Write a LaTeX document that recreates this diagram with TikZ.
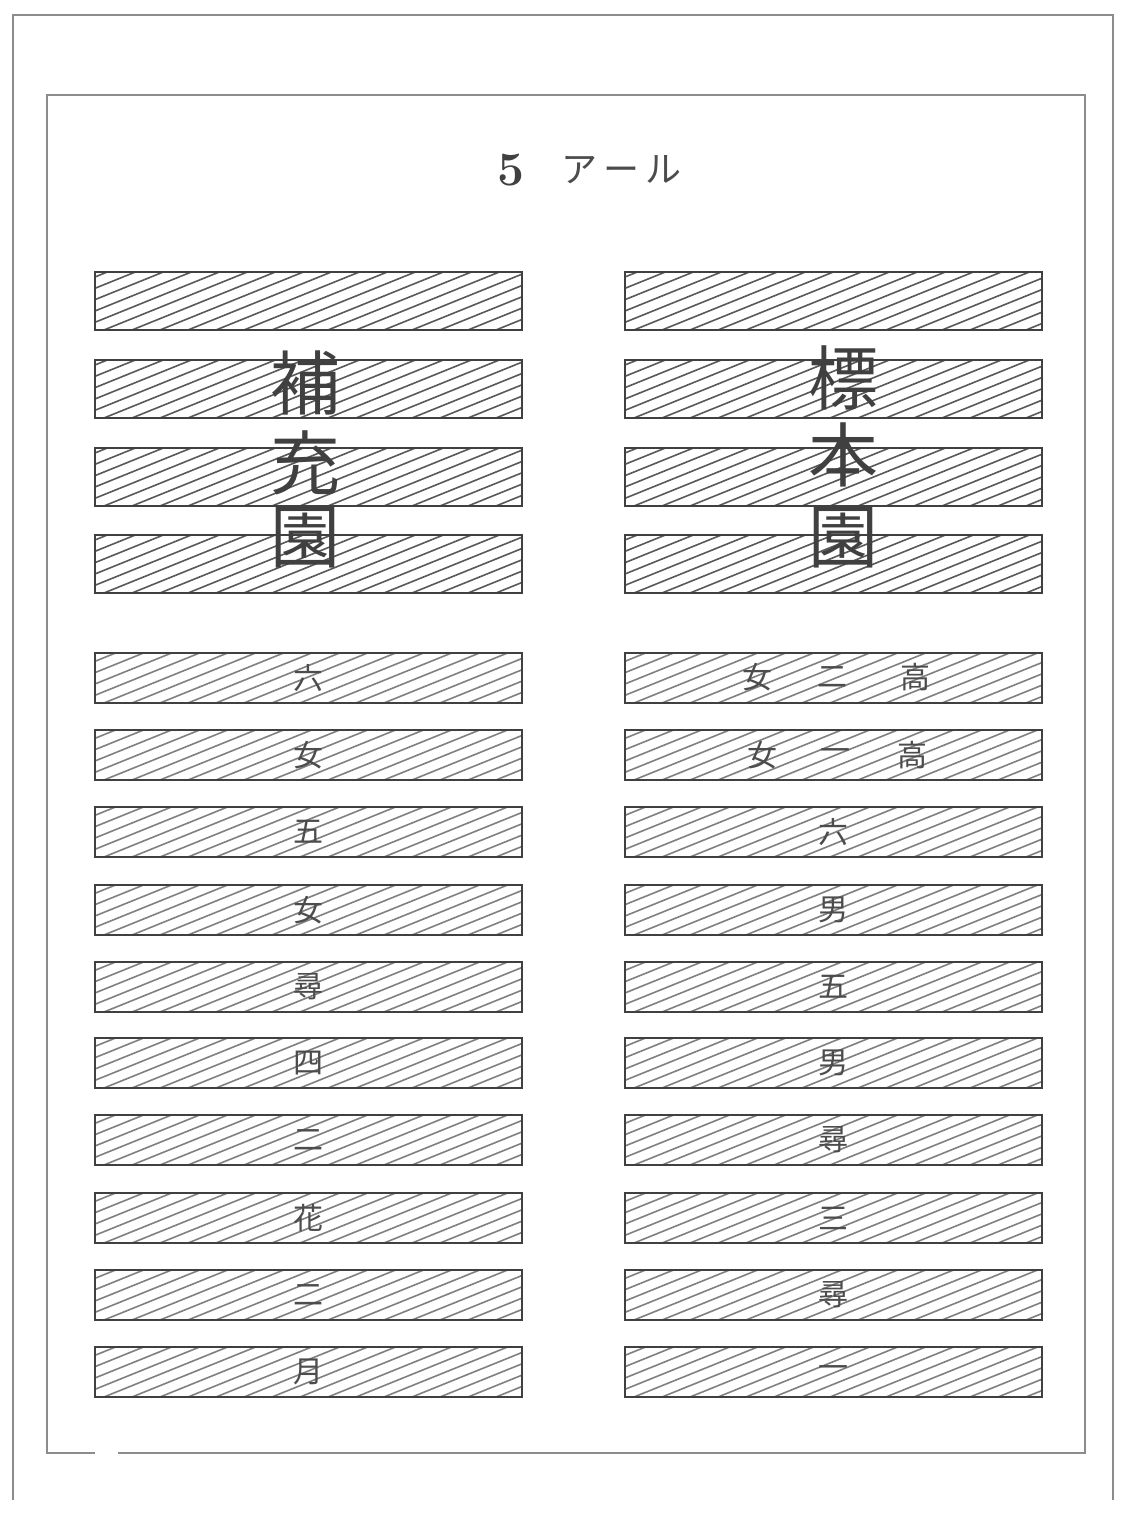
\documentclass[tikz,border=0pt]{standalone}
\usepackage{fontspec}
\newfontfamily\cjk{Noto Sans CJK JP}
\usetikzlibrary{positioning}

\tikzset{
    bed/.style={draw=black!75, line width=1.2pt},
    hatch/.style={draw=black!#1, line width=0.8pt},
    bigchar/.style={font=\cjk\fontsize{35}{35}\selectfont, text=black!75, inner sep=0pt},
    smallchar/.style={font=\cjk\fontsize{15}{15}\selectfont, text=black!70, inner sep=0pt},
    frame/.style={draw=black!45, line width=0.8pt},
}

% hatched bed: name, left, top, right, bottom, hatch darkness
\newcommand{\hatchbed}[6]{%
  \begin{scope}
    \clip (#2,#3) rectangle (#4,#5);
    \foreach \hx in {-220,-192,...,460}
      \draw[hatch=#6] (#2+\hx,#5+2) -- ++(220,-89);
  \end{scope}
  \draw[bed] (#2,#3) rectangle (#4,#5);
  \coordinate (#1) at ({(#2+#4)/2},{(#3+#5)/2});
}

\begin{document}
\begin{tikzpicture}[x=0.5pt, y=-0.5pt]
\fill[white] (0,0) rectangle (1123,1513);
\useasboundingbox (0,0) rectangle (1123,1513);

% frames
\draw[frame] (13,1500) -- (13,15) -- (1113,15) -- (1113,1500);
\draw[frame] (95,1453) -- (47,1453) -- (47,95) -- (1085,95) -- (1085,1453) -- (118,1453);

% title
\node[font=\fontsize{24}{24}\selectfont\bfseries, text=black!75, inner sep=0pt] (five) at (511,170) {5};
\node[font=\cjk\fontsize{18}{18}\selectfont, text=black!70, inner sep=0pt, right=18pt of five] (are) {ア\,ー\,ル};

% upper beds
\foreach \t [count=\i] in {272,360,448,535} {
  \hatchbed{UL\i}{95}{\t}{522}{\t+58}{65}
  \hatchbed{UR\i}{625}{\t}{1042}{\t+58}{65}
}

% lower beds
\foreach \t [count=\i] in {653,730,807,885,962,1038,1115,1193,1270,1347} {
  \hatchbed{LL\i}{95}{\t}{522}{\t+50}{50}
  \hatchbed{LR\i}{625}{\t}{1042}{\t+50}{50}
}

% garden names
\node[bigchar] (ho)  at (305,383) {補};
\node[bigchar] (ju)  at (305,463) {充};
\node[bigchar] (en1) at (305,537) {園};
\node[bigchar] (hyo) at (843,378) {標};
\node[bigchar] (hon) at (843,455) {本};
\node[bigchar] (en2) at (843,537) {園};

% left classes
\foreach \c [count=\i] in {六,女,五,女,尋,四,二,花,二,月}
  \node[smallchar] (cl\i) at (LL\i) {\c};

% right classes
\node[smallchar] (cr1a) at (757,677) {女};
\node[smallchar] (cr1b) at (832,677) {二};
\node[smallchar] (cr1c) at (915,677) {高};
\node[smallchar] (cr2a) at (762,755) {女};
\node[smallchar] (cr2b) at (835,755) {一};
\node[smallchar] (cr2c) at (912,755) {高};
\foreach \c [count=\i from 3] in {六,男,五,男,尋,三,尋,一}
  \node[smallchar] (cr\i) at (LR\i) {\c};

\end{tikzpicture}
\end{document}
